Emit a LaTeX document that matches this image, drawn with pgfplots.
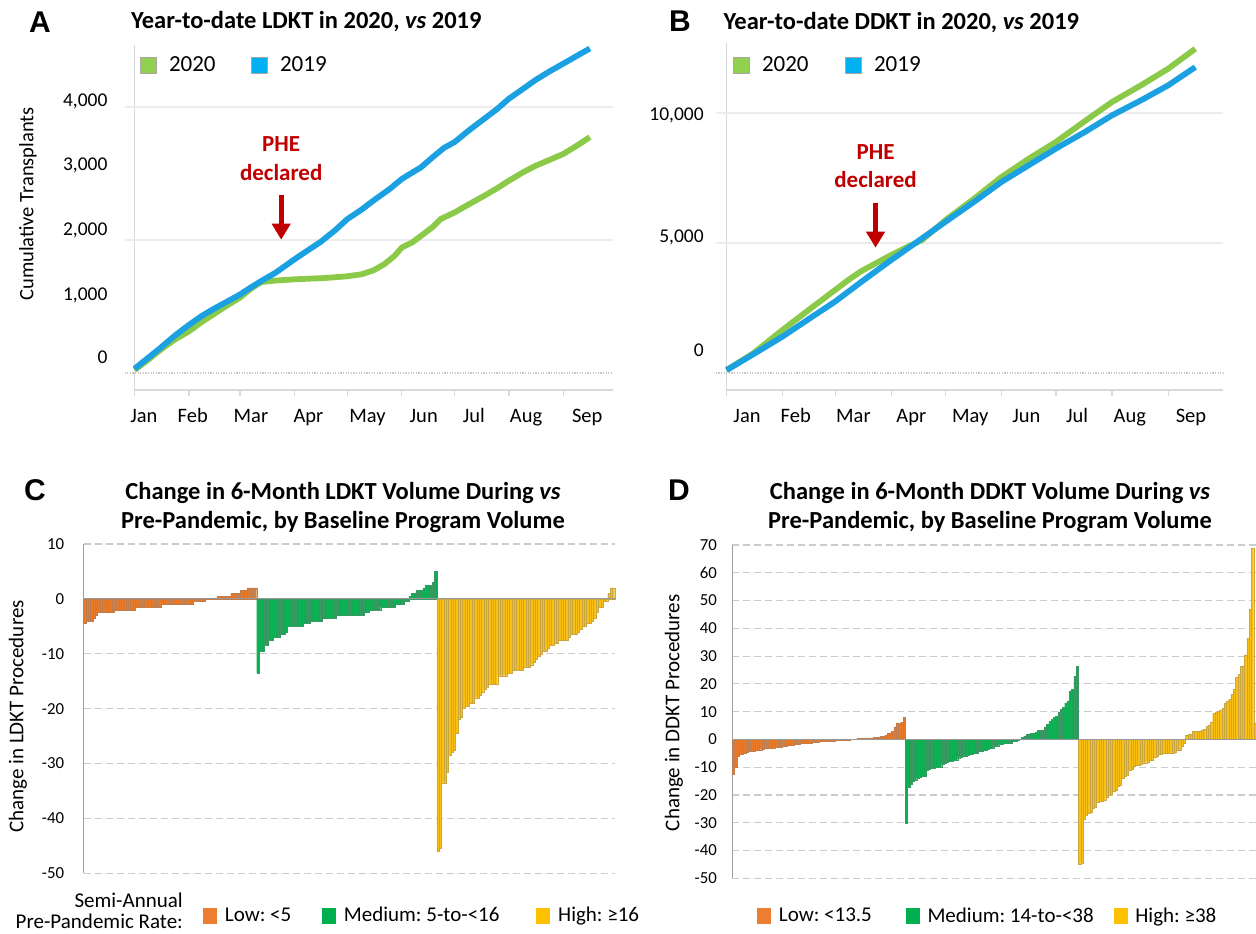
\documentclass[border=0pt]{standalone}
\usepackage{fontspec}
\setmainfont{Carlito}
\newfontfamily\arialfont{Liberation Sans}
\usepackage{pgfplots}
\usepackage{pgfplotstable}
\pgfplotsset{compat=1.18}
\usetikzlibrary{arrows.meta}
\frenchspacing

\definecolor{lgreen}{RGB}{139,201,72}
\definecolor{lblue}{RGB}{27,161,226}
\definecolor{sqgreen}{RGB}{146,208,80}
\definecolor{sqblue}{RGB}{0,176,240}
\definecolor{phered}{RGB}{192,0,0}
\definecolor{cor}{RGB}{237,125,49}
\definecolor{cgr}{RGB}{0,176,80}
\definecolor{cye}{RGB}{255,192,0}
\definecolor{bor}{RGB}{235,122,40}
\definecolor{bgr}{RGB}{10,174,80}
\definecolor{bye}{RGB}{250,192,20}
\definecolor{axgray}{RGB}{217,217,217}
\definecolor{gridgray}{RGB}{236,236,236}

% ---------- Panel A data (day of year, cumulative) ----------
\pgfplotstableread{
day v
0 60
8 230
15 380
23 560
31 720
38 850
45 960
52 1060
60 1177
66 1280
72 1378
80 1500
91 1706
98 1830
106 1970
114 2140
121 2309
129 2450
137 2610
145 2760
152 2913
158 3010
163 3090
170 3250
176 3380
182 3467
190 3640
198 3800
206 3960
213 4121
220 4250
228 4400
236 4530
244 4649
252 4770
259 4875
}\AblueTab
\pgfplotstableread{
day v
0 40
8 200
15 350
23 500
31 623
38 760
45 880
52 1000
60 1130
66 1260
72 1363
80 1385
91 1404
100 1415
106 1420
114 1435
121 1450
129 1479
136 1540
142 1630
148 1760
152 1882
158 1960
163 2058
170 2200
174 2309
182 2410
190 2530
199 2662
206 2770
213 2888
221 3014
228 3110
236 3200
244 3291
252 3420
259 3543
}\AgreenTab
% ---------- Panel B data ----------
\pgfplotstableread{
day v
0 100
15 720
31 1397
45 2050
60 2743
75 3530
91 4346
106 5080
121 5820
137 6600
152 7359
167 8000
182 8641
198 9280
213 9923
229 10500
244 11077
259 11781
}\BblueTab
\pgfplotstableread{
day v
0 100
15 760
31 1654
45 2400
60 3192
67 3560
74 3897
82 4200
91 4538
100 4850
108 5115
121 5885
137 6720
152 7551
167 8250
182 8897
198 9700
213 10436
229 11080
244 11718
259 12488
}\BgreenTab
% ---------- Panel C data ----------
\pgfplotstableread[row sep=crcr]{v\\-4.5\\-4\\-4\\-4\\-3.5\\-3\\-2.5\\-2.5\\-2.5\\-2.5\\-2.5\\-2.5\\-2.5\\-2\\-2\\-2\\-2\\-2\\-2\\-2\\-2\\-2\\-1.5\\-1.5\\-1.5\\-1.5\\-1.5\\-1.5\\-1.5\\-1.5\\-1.5\\-1.5\\-1.5\\-1\\-1\\-1\\-1\\-1\\-1\\-1\\-1\\-1\\-1\\-1\\-1\\-1\\-1\\-0.5\\-0.5\\-0.5\\-0.5\\-0.5\\0\\0\\0\\0\\0\\0.5\\0.5\\0.5\\0.5\\0.5\\0.5\\1\\1\\1\\1\\1.5\\1.5\\1.5\\2\\2\\2\\2\\}\CLow
\pgfplotstableread[row sep=crcr]{v\\-13.5\\-9.5\\-9.5\\-8.5\\-8.5\\-7.5\\-7.5\\-7\\-7\\-7\\-6.5\\-6.5\\-6\\-5\\-5\\-5\\-5\\-5\\-5\\-5\\-4.5\\-4.5\\-4.5\\-4\\-4\\-4\\-4\\-4\\-3.5\\-3.5\\-3.5\\-3.5\\-3.5\\-3.5\\-3\\-3\\-3\\-3\\-3\\-3\\-3\\-3\\-3\\-3\\-3\\-3\\-2.5\\-2.5\\-2\\-2\\-2\\-2\\-2\\-1.5\\-1.5\\-1.5\\-1.5\\-1.5\\-1.5\\-1\\-1\\-1\\-1\\-0.5\\-0.5\\0.5\\1\\1\\1.5\\1.5\\1.5\\2\\2.5\\2.5\\2.5\\3\\5\\}\CMed
\pgfplotstableread[row sep=crcr]{v\\-46\\-45.5\\-33.5\\-33.5\\-31.5\\-28.5\\-28\\-27.5\\-24.5\\-22\\-21.5\\-20\\-19.5\\-19.5\\-19\\-19\\-18\\-18\\-17.5\\-17\\-16.5\\-16\\-15.5\\-15.5\\-15.5\\-15.5\\-14\\-14\\-14\\-14\\-13.5\\-13.5\\-13\\-13\\-13\\-13\\-13\\-12.5\\-12.5\\-12.5\\-12\\-11.5\\-11\\-10.5\\-10\\-9.5\\-9.5\\-9\\-8.5\\-8.5\\-8\\-8\\-7.5\\-7.5\\-7.5\\-7.5\\-7\\-6.5\\-6.5\\-6.5\\-6\\-5.5\\-5\\-5\\-4.5\\-4.5\\-4\\-3.5\\-2.5\\-1.5\\-1.5\\-0.5\\-0.5\\1\\2\\2\\}\CHigh
% ---------- Panel D data ----------
\pgfplotstableread[row sep=crcr]{v\\-12.5\\-10\\-6\\-5.4\\-5.2\\-4.9\\-4.7\\-4.4\\-4.3\\-4.1\\-4.0\\-3.9\\-3.7\\-3.5\\-3.3\\-3.3\\-3.2\\-3.1\\-3.0\\-2.8\\-2.7\\-2.7\\-2.6\\-2.3\\-2.2\\-2.1\\-2.0\\-1.8\\-1.7\\-1.6\\-1.5\\-1.4\\-1.3\\-1.3\\-1.2\\-1.1\\-1.0\\-1.0\\-0.8\\-0.8\\-0.7\\-0.7\\-0.6\\-0.6\\-0.5\\-0.4\\-0.4\\-0.3\\-0.3\\-0.2\\-0.2\\-0.1\\0\\0\\0\\0.3\\0.4\\0.4\\0.5\\0.5\\0.5\\0.6\\0.8\\0.8\\0.9\\1.0\\1.3\\1.5\\2.2\\2.4\\3.0\\4.5\\5.8\\6.0\\6.1\\7.9\\}\DLow
\pgfplotstableread[row sep=crcr]{v\\-30.2\\-17.3\\-16.1\\-15.2\\-14.7\\-13.9\\-13.5\\-13.3\\-13.1\\-11.2\\-10.8\\-10.5\\-10.3\\-10.1\\-10.0\\-9.9\\-8.9\\-8.6\\-8.3\\-7.9\\-7.8\\-7.6\\-7.5\\-6.6\\-6.4\\-6.2\\-6.0\\-5.6\\-5.4\\-5.3\\-5.1\\-5.0\\-4.4\\-4.2\\-4.0\\-3.8\\-3.4\\-3.2\\-3.0\\-2.5\\-2.3\\-1.8\\-1.6\\-1.5\\-1.4\\-1.3\\-1.2\\-0.8\\-0.6\\-0.4\\0\\0.8\\1.1\\1.8\\2.0\\2.3\\2.4\\2.5\\3.2\\3.3\\3.4\\4.5\\5.5\\6.6\\7.2\\8.0\\8.3\\9.9\\10.8\\11.5\\13.2\\13.9\\17.5\\18.0\\22.8\\26.4\\}\DMed
\pgfplotstableread[row sep=crcr]{v\\-45\\-44.4\\-28.8\\-27.3\\-26.6\\-26.2\\-24.8\\-24.3\\-22.6\\-22.4\\-22.2\\-22.0\\-20.9\\-19.9\\-19.6\\-18.6\\-18.3\\-17.0\\-16.6\\-14.0\\-13.1\\-12.7\\-11.0\\-10.6\\-9.6\\-9.4\\-9.2\\-9.0\\-8.6\\-8.4\\-8.2\\-7.6\\-7.4\\-6.5\\-6.2\\-5.3\\-5.2\\-5.1\\-5.0\\-4.9\\-4.9\\-4.8\\-4.7\\-4.0\\-3.8\\-2.4\\-1.4\\1.5\\1.8\\2.0\\2.9\\3.0\\3.0\\3.1\\3.2\\3.6\\4.6\\5.0\\6.3\\9.4\\9.8\\10.1\\10.4\\11.2\\13.0\\13.9\\14.4\\16.2\\18.0\\22.5\\23.5\\26.2\\26.5\\30.4\\36.4\\46.8\\68.8\\6.0\\}\DHigh

\pgfplotsset{
  linepanel/.style={
    scale only axis, anchor=south west,
    axis x line=bottom, axis y line=left,
    axis line style={-, draw=axgray, line width=1.2pt},
    major tick length=0pt, minor tick length=6pt, tick align=outside,
    minor tick style={draw=axgray, line width=1.2pt},
    minor xtick={0,31,60,91,121,152,182,213,244},
    xticklabels={Jan,Feb,Mar,Apr,May,Jun,Jul,Aug,Sep},
    xticklabel style={font=\fontsize{20.5}{24}\selectfont, anchor=base, yshift=-32.5pt},
    yticklabel style={font=\fontsize{19.5}{23}\selectfont, anchor=east, inner sep=0pt},
    scaled y ticks=false, scaled x ticks=false,
    clip=false,
    legend columns=-1,
    legend style={draw=none, fill=none, inner sep=0pt, nodes={inner sep=0pt},
      font=\fontsize{23}{27}\selectfont,
      /tikz/every odd column/.append style={column sep=12pt},
      /tikz/every even column/.append style={column sep=0pt}},
  },
  barpanel/.style={
    scale only axis, anchor=south west,
    axis x line=none, axis y line=left,
    axis line style={-, draw=gray!75, line width=1.2pt},
    xtick=\empty, major tick length=0pt,
    yticklabel style={font=\fontsize{16.8}{20}\selectfont, anchor=east, inner sep=0pt},
    ymajorgrids, major grid style={draw=gray!40, line width=1.1pt, dash pattern=on 7pt off 4pt},
    ybar, bar width=1,
    clip=false,
    legend columns=-1,
    legend style={draw=none, fill=none, inner sep=0pt, nodes={inner sep=0pt},
      font=\fontsize{21}{25}\selectfont,
      /tikz/every odd column/.append style={column sep=8.5pt},
      /tikz/every even column/.append style={column sep=0pt}},
  },
  barsty/.style={bar shift=0pt, fill=#1, draw=gray!40!#1, line width=0.3pt},
}

\begin{document}
\begin{tikzpicture}
\useasboundingbox (0pt,0pt) rectangle (1256pt,934pt);

% ================= Panel A =================
\begin{axis}[linepanel,
  at={(134.6pt,544pt)}, width=478.1pt, height=345pt,
  xmin=0, xmax=272, ymin=-260, ymax=4928,
  xtick={5.3,33.1,66.2,98.9,132.5,164.5,193,222.7,257.5},
  ytick={236,1168,2135,3112,4086},
  yticklabels={{0},{1,000},{2,000},{3,000},{4,000}},
  yticklabel style={xshift=-27pt},
  legend style={at={(axis description cs:0.0113,0.942)}, anchor=west},
]
\draw[gridgray, line width=2pt] (axis cs:-5.7,2000) -- (axis cs:272,2000);
\draw[gridgray, line width=2pt] (axis cs:-5.7,4000) -- (axis cs:272,4000);
\draw[gray!45, line width=2pt, dash pattern=on 1.3pt off 1.3pt] (axis cs:-5.7,0) -- (axis cs:272,0);
\addplot[lgreen, line width=5.8pt, line join=round,
  legend image code/.code={\filldraw[fill=sqgreen, draw=gray!70, line width=0.8pt] (0pt,-8pt) rectangle (16pt,8pt);}]
  table[x=day, y=v] {\AgreenTab};
\addlegendentry{2020}
\addplot[lblue, line width=5.8pt, line join=round,
  legend image code/.code={\path[draw=none, fill=none] (-36pt,-1pt) rectangle (0pt,1pt); \filldraw[fill=sqblue, draw=gray!70, line width=0.8pt] (0pt,-8pt) rectangle (16pt,8pt);}]
  table[x=day, y=v] {\AblueTab};
\addlegendentry{2019}
\node[font=\fontsize{23}{27}\selectfont\bfseries, text=phered] at (axis cs:83.4,3444) {PHE};
\node[font=\fontsize{23}{27}\selectfont\bfseries, text=phered] at (axis cs:83.4,3008) {declared};
\draw[phered, line width=5pt, -{Triangle[width=18pt,length=16pt]}] (axis cs:83.4,2677) -- (axis cs:83.4,2000);
\end{axis}

% ================= Panel B =================
\begin{axis}[linepanel,
  at={(726.6pt,544pt)}, width=496.2pt, height=347pt,
  xmin=0, xmax=274.2, ymin=-667, ymax=12710,
  xtick={11.3,38.2,70.1,102.1,134.6,165.7,193.7,222.8,256.6},
  ytick={875,5231,9935},
  yticklabels={{0},{5,000},{10,000}},
  yticklabel style={xshift=-22.7pt},
  legend style={at={(axis description cs:0.0129,0.9366)}, anchor=west},
]
\draw[gridgray, line width=2pt] (axis cs:-6,5000) -- (axis cs:274.2,5000);
\draw[gridgray, line width=2pt] (axis cs:-6,10000) -- (axis cs:274.2,10000);
\draw[gray!45, line width=2pt, dash pattern=on 1.3pt off 1.3pt] (axis cs:-6,0) -- (axis cs:274.2,0);
\addplot[lgreen, line width=5.8pt, line join=round,
  legend image code/.code={\filldraw[fill=sqgreen, draw=gray!70, line width=0.8pt] (0pt,-8pt) rectangle (16pt,8pt);}]
  table[x=day, y=v] {\BgreenTab};
\addlegendentry{2020}
\addplot[lblue, line width=5.8pt, line join=round,
  legend image code/.code={\path[draw=none, fill=none] (-37pt,-1pt) rectangle (0pt,1pt); \filldraw[fill=sqblue, draw=gray!70, line width=0.8pt] (0pt,-8pt) rectangle (16pt,8pt);}]
  table[x=day, y=v] {\BblueTab};
\addlegendentry{2019}
\node[font=\fontsize{23}{27}\selectfont\bfseries, text=phered] at (axis cs:82.3,8520) {PHE};
\node[font=\fontsize{23}{27}\selectfont\bfseries, text=phered] at (axis cs:82.3,7440) {declared};
\draw[phered, line width=5pt, -{Triangle[width=18pt,length=16pt]}] (axis cs:82.3,6554) -- (axis cs:82.3,4819);
\end{axis}

% ================= Panel C =================
\begin{axis}[barpanel,
  at={(83.6pt,60.7pt)}, width=531.1pt, height=329.3pt,
  xmin=0.5, xmax=227.5, ymin=-50, ymax=10,
  ytick={-50,-40,-30,-20,-10,0,10},
  yticklabels={-50,-40,-30,-20,-10,0,10},
  yticklabel style={xshift=-19.3pt},
  legend style={at={(axis description cs:0.2248,-0.128)}, anchor=west},
]
\addplot[barsty=bor, legend image code/.code={\fill[cor] (0pt,-7.5pt) rectangle (13pt,7.5pt);}]
  table[x expr=\coordindex+1, y=v] {\CLow};
\addlegendentry{Low: <5}
\addplot[barsty=bgr, legend image code/.code={\path[draw=none, fill=none] (-31pt,-1pt) rectangle (0pt,1pt); \fill[cgr] (0pt,-7.5pt) rectangle (13pt,7.5pt);}]
  table[x expr=\coordindex+75, y=v] {\CMed};
\addlegendentry{Medium: 5-to-<16}
\addplot[barsty=bye, legend image code/.code={\path[draw=none, fill=none] (-37pt,-1pt) rectangle (0pt,1pt); \fill[cye] (0pt,-7.5pt) rectangle (13pt,7.5pt);}]
  table[x expr=\coordindex+152, y=v] {\CHigh};
\addlegendentry{High: ≥16}
\draw[gray!80, line width=1.2pt] (axis cs:0.5,0) -- (axis cs:227.5,0);
\end{axis}

% ================= Panel D =================
\begin{axis}[barpanel,
  at={(732.2pt,55.7pt)}, width=523.8pt, height=333.3pt,
  xmin=0.5, xmax=230.5, ymin=-50, ymax=70,
  ytick={-50,-40,-30,-20,-10,0,10,20,30,40,50,60,70},
  yticklabels={-50,-40,-30,-20,-10,0,10,20,30,40,50,60,70},
  yticklabel style={xshift=-15.2pt},
  legend style={at={(axis description cs:0.0473,-0.1116)}, anchor=west},
]
\addplot[barsty=bor, legend image code/.code={\fill[cor] (0pt,-7.5pt) rectangle (13pt,7.5pt);}]
  table[x expr=\coordindex+1, y=v] {\DLow};
\addlegendentry{Low: <13.5}
\addplot[barsty=bgr, legend image code/.code={\path[draw=none, fill=none] (-34pt,-1pt) rectangle (0pt,1pt); \fill[cgr] (0pt,-7.5pt) rectangle (13pt,7.5pt);}]
  table[x expr=\coordindex+77, y=v] {\DMed};
\addlegendentry{Medium: 14-to-<38}
\addplot[barsty=bye, legend image code/.code={\path[draw=none, fill=none] (-20pt,-1pt) rectangle (0pt,1pt); \fill[cye] (0pt,-7.5pt) rectangle (13pt,7.5pt);}]
  table[x expr=\coordindex+153, y=v] {\DHigh};
\addlegendentry{High: ≥38}
\draw[gray!80, line width=1.2pt] (axis cs:0.5,0) -- (axis cs:230.5,0);
\end{axis}

% ================= Texts =================
\node[font=\arialfont\fontsize{30}{34}\selectfont\bfseries] at (40pt,912pt) {A};
\node[font=\arialfont\fontsize{30}{34}\selectfont\bfseries] at (680pt,913pt) {B};
\node[font=\arialfont\fontsize{30}{34}\selectfont\bfseries] at (35pt,444pt) {C};
\node[font=\arialfont\fontsize{30}{34}\selectfont\bfseries] at (679pt,444pt) {D};

\node[font=\fontsize{24.5}{29}\selectfont\bfseries] at (306.3pt,912pt) {Year-to-date LDKT in 2020, \textit{vs} 2019};
\node[font=\fontsize{24.5}{29}\selectfont\bfseries] at (901.4pt,911pt) {Year-to-date DDKT in 2020, \textit{vs} 2019};
\node[font=\fontsize{24.5}{29}\selectfont\bfseries, align=center] at (343pt,426.5pt) {Change in 6-Month LDKT Volume During \textit{vs}\\Pre-Pandemic, by Baseline Program Volume};
\node[font=\fontsize{24.5}{29}\selectfont\bfseries, align=center] at (990pt,426.5pt) {Change in 6-Month DDKT Volume During \textit{vs}\\Pre-Pandemic, by Baseline Program Volume};

\node[rotate=90, font=\fontsize{20.5}{24}\selectfont] at (28pt,730pt) {Cumulative Transplants};
\node[rotate=90, font=\fontsize{21}{25}\selectfont] at (18pt,217.5pt) {Change in LDKT Procedures};
\node[rotate=90, font=\fontsize{21}{25}\selectfont] at (674pt,221.2pt) {Change in DDKT Procedures};

\node[anchor=east, align=right, inner sep=0pt, font=\fontsize{21}{21.5}\selectfont] at (183pt,23pt) {Semi-Annual\\Pre-Pandemic Rate:};
\end{tikzpicture}
\end{document}
